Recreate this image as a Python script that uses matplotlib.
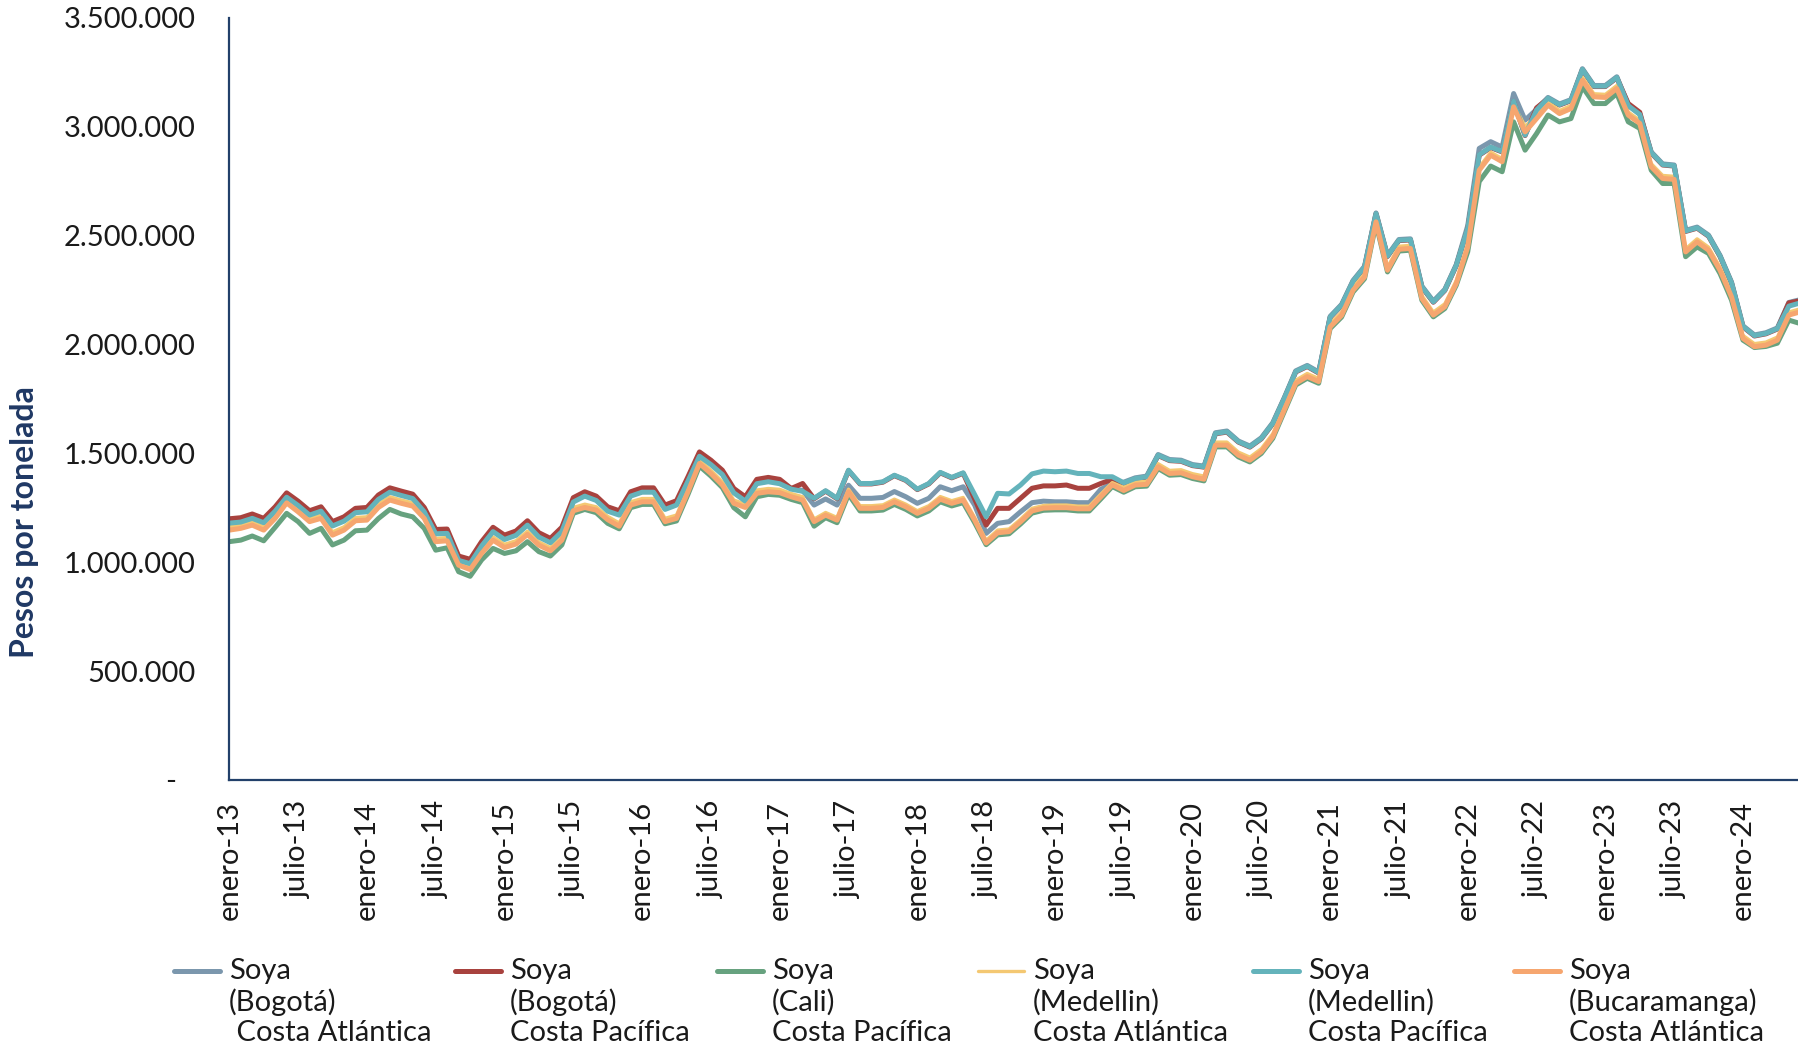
import numpy as np
import matplotlib
matplotlib.use("Agg")
import matplotlib.pyplot as plt
from matplotlib.lines import Line2D
from matplotlib.ticker import FuncFormatter
from matplotlib.transforms import ScaledTranslation

plt.rcParams['font.family'] = ['Lato', 'DejaVu Sans']

# Precio mensual de la soya, miles de pesos por tonelada (enero-13 en adelante)
bogota_atl = [1183, 1188, 1205, 1185, 1238, 1302, 1264, 1220, 1238, 1170,
              1192, 1231, 1235, 1292, 1325, 1310, 1296, 1235, 1134, 1136,
              1012, 997, 1078, 1144, 1108, 1127, 1174, 1119, 1093, 1144,
              1280, 1307, 1287, 1238, 1220, 1307, 1325, 1325, 1246, 1266,
              1376, 1490, 1452, 1406, 1322, 1284, 1364, 1373, 1364, 1339,
              1329, 1262, 1290, 1262, 1353, 1293, 1293, 1297, 1324, 1300,
              1270, 1293, 1346, 1328, 1346, 1262, 1132, 1178, 1186, 1231,
              1273, 1280, 1277, 1277, 1273, 1273, 1334, 1361, 1367, 1387,
              1395, 1494, 1471, 1468, 1448, 1441, 1594, 1602, 1556, 1533,
              1571, 1640, 1755, 1878, 1903, 1873, 2128, 2183, 2293, 2358,
              2603, 2408, 2481, 2484, 2267, 2198, 2252, 2366, 2545, 2899,
              2930, 2905, 3151, 3029, 3078, 3133, 3103, 3123, 3265, 3188,
              3188, 3228, 3098, 3058, 2883, 2828, 2823, 2523, 2538, 2501,
              2408, 2286, 2085, 2043, 2053, 2075, 2192, 2205]

bogota_pac = [1199, 1204, 1221, 1201, 1254, 1318, 1280, 1236, 1254, 1186,
              1208, 1247, 1251, 1308, 1341, 1326, 1312, 1251, 1150, 1152,
              1028, 1013, 1094, 1160, 1124, 1143, 1190, 1135, 1109, 1160,
              1296, 1323, 1303, 1254, 1236, 1323, 1341, 1341, 1262, 1282,
              1392, 1506, 1468, 1422, 1338, 1300, 1380, 1389, 1380, 1338,
              1361, 1291, 1326, 1291, 1420, 1359, 1359, 1367, 1397, 1375,
              1333, 1359, 1410, 1387, 1408, 1290, 1170, 1247, 1247, 1293,
              1339, 1350, 1350, 1354, 1339, 1339, 1361, 1380, 1362, 1382,
              1390, 1489, 1466, 1463, 1443, 1436, 1589, 1597, 1551, 1528,
              1566, 1635, 1750, 1873, 1898, 1868, 2123, 2178, 2288, 2353,
              2598, 2403, 2476, 2479, 2262, 2193, 2247, 2361, 2530, 2868,
              2903, 2883, 3113, 2958, 3085, 3128, 3098, 3118, 3260, 3183,
              3183, 3223, 3105, 3065, 2878, 2823, 2818, 2518, 2533, 2496,
              2403, 2281, 2080, 2038, 2048, 2070, 2190, 2200]

cali_pac = [1094, 1101, 1120, 1098, 1160, 1224, 1186, 1132, 1155, 1079,
            1101, 1144, 1147, 1200, 1242, 1221, 1208, 1155, 1055, 1066,
            956, 935, 1010, 1063, 1040, 1052, 1094, 1048, 1028, 1079,
            1224, 1242, 1227, 1178, 1153, 1250, 1265, 1265, 1176, 1189,
            1311, 1441, 1395, 1342, 1250, 1208, 1300, 1311, 1307, 1288,
            1273, 1165, 1204, 1181, 1311, 1235, 1235, 1239, 1265, 1242,
            1212, 1235, 1277, 1258, 1273, 1181, 1080, 1125, 1130, 1175,
            1225, 1238, 1240, 1240, 1235, 1235, 1290, 1347, 1321, 1346,
            1349, 1430, 1399, 1402, 1384, 1373, 1529, 1529, 1483, 1460,
            1499, 1568, 1691, 1813, 1844, 1821, 2072, 2125, 2240, 2301,
            2554, 2332, 2428, 2432, 2202, 2126, 2164, 2271, 2425, 2747,
            2818, 2792, 3021, 2891, 2967, 3052, 3021, 3036, 3182, 3105,
            3105, 3151, 3021, 2991, 2799, 2738, 2738, 2402, 2447, 2417,
            2325, 2203, 2019, 1985, 1990, 2005, 2111, 2095]

medellin_atl = [1162, 1170, 1185, 1162, 1216, 1287, 1246, 1201, 1216, 1139,
                1162, 1205, 1208, 1266, 1300, 1285, 1272, 1216, 1109, 1113,
                1001, 981, 1055, 1116, 1082, 1098, 1142, 1093, 1067, 1116,
                1251, 1266, 1254, 1210, 1180, 1277, 1292, 1292, 1201, 1216,
                1338, 1468, 1422, 1369, 1285, 1266, 1331, 1338, 1334, 1315,
                1300, 1198, 1228, 1205, 1335, 1259, 1259, 1263, 1289, 1266,
                1236, 1259, 1301, 1282, 1297, 1205, 1100, 1147, 1152, 1197,
                1247, 1260, 1262, 1262, 1257, 1257, 1312, 1365, 1343, 1368,
                1371, 1452, 1421, 1424, 1406, 1395, 1551, 1551, 1505, 1482,
                1521, 1590, 1713, 1835, 1866, 1843, 2094, 2147, 2262, 2323,
                2576, 2354, 2450, 2454, 2224, 2148, 2186, 2293, 2461, 2813,
                2882, 2852, 3104, 3000, 3050, 3112, 3073, 3096, 3226, 3150,
                3147, 3188, 3066, 3028, 2829, 2775, 2771, 2438, 2484, 2446,
                2354, 2232, 2041, 2003, 2010, 2033, 2148, 2163]

medellin_pac = [1179, 1184, 1201, 1181, 1234, 1298, 1260, 1216, 1234, 1166,
                1188, 1227, 1231, 1288, 1321, 1306, 1292, 1231, 1130, 1132,
                1008, 993, 1074, 1140, 1104, 1123, 1170, 1115, 1089, 1140,
                1276, 1303, 1283, 1234, 1216, 1303, 1321, 1321, 1242, 1262,
                1372, 1486, 1448, 1402, 1318, 1280, 1360, 1369, 1360, 1335,
                1325, 1293, 1328, 1293, 1422, 1361, 1361, 1369, 1399, 1377,
                1335, 1361, 1412, 1389, 1410, 1310, 1208, 1316, 1313, 1354,
                1405, 1418, 1415, 1418, 1407, 1407, 1392, 1392, 1364, 1384,
                1392, 1491, 1468, 1465, 1445, 1438, 1591, 1599, 1553, 1530,
                1568, 1637, 1752, 1875, 1900, 1870, 2125, 2180, 2290, 2355,
                2600, 2405, 2478, 2481, 2264, 2195, 2249, 2363, 2532, 2870,
                2905, 2885, 3115, 2960, 3075, 3130, 3100, 3120, 3262, 3185,
                3185, 3225, 3095, 3055, 2880, 2825, 2820, 2520, 2535, 2498,
                2405, 2283, 2082, 2040, 2050, 2072, 2175, 2190]

bucaramanga_atl = [1147, 1155, 1170, 1147, 1201, 1272, 1231, 1186, 1201, 1124,
                   1147, 1190, 1193, 1251, 1285, 1270, 1257, 1201, 1094, 1098,
                   986, 966, 1040, 1101, 1067, 1083, 1127, 1078, 1052, 1101,
                   1236, 1251, 1239, 1195, 1165, 1262, 1277, 1277, 1186, 1201,
                   1323, 1453, 1407, 1354, 1270, 1251, 1316, 1323, 1319, 1300,
                   1285, 1186, 1216, 1193, 1323, 1247, 1247, 1251, 1277, 1254,
                   1224, 1247, 1289, 1270, 1285, 1193, 1088, 1135, 1140, 1185,
                   1235, 1248, 1250, 1250, 1245, 1245, 1300, 1355, 1329, 1354,
                   1357, 1438, 1407, 1410, 1392, 1381, 1537, 1537, 1491, 1468,
                   1507, 1576, 1699, 1821, 1852, 1829, 2080, 2133, 2248, 2309,
                   2562, 2340, 2436, 2440, 2210, 2134, 2172, 2279, 2447, 2799,
                   2868, 2838, 3090, 2975, 3036, 3098, 3059, 3082, 3212, 3136,
                   3133, 3174, 3052, 3014, 2815, 2761, 2757, 2424, 2470, 2432,
                   2340, 2218, 2027, 1989, 1996, 2019, 2134, 2149]

etiquetas_x = ["enero-13", "julio-13", "enero-14", "julio-14", "enero-15", "julio-15",
               "enero-16", "julio-16", "enero-17", "julio-17", "enero-18", "julio-18",
               "enero-19", "julio-19", "enero-20", "julio-20", "enero-21", "julio-21",
               "enero-22", "julio-22", "enero-23", "julio-23", "enero-24"]

nombres = [("Soya", "(Bogotá)", " Costa Atlántica"),
           ("Soya", "(Bogotá)", "Costa Pacífica"),
           ("Soya", "(Cali)", "Costa Pacífica"),
           ("Soya", "(Medellin)", "Costa Atlántica"),
           ("Soya", "(Medellin)", "Costa Pacífica"),
           ("Soya", "(Bucaramanga)", "Costa Atlántica")]

series = [bogota_atl, bogota_pac, cali_pac, medellin_atl, medellin_pac, bucaramanga_atl]
colores = ["#7B97AD", "#A8423E", "#67A27F", "#F4C872", "#64B3BB", "#F6A66F"]
anchos = [3.6, 3.6, 3.6, 2.4, 3.6, 3.6]

W, H = 1798, 1050
fig = plt.figure(figsize=(W / 100, H / 100), dpi=100)
ax = fig.add_axes([229.3 / W, 270 / H, 1 - 229.3 / W, 762.5 / H])

meses = np.arange(len(bogota_atl))
for vals, col, lw in zip(series, colores, anchos):
    ax.plot(meses, np.array(vals) * 1000, color=col, lw=lw,
            solid_joinstyle='round', solid_capstyle='round')

ax.set_xlim(0, 136.8)
ax.set_ylim(0, 3.5e6)


def miles(v, pos):
    if v == 0:
        return "-"
    return f"{v:,.0f}".replace(",", ".")


ax.set_yticks(np.arange(0, 3.5e6 + 1, 5e5))
ax.yaxis.set_major_formatter(FuncFormatter(miles))
ax.set_xticks(meses[::6])
ax.set_xticklabels(etiquetas_x, rotation=90)

ax.tick_params(axis='both', length=0, labelsize=21, labelcolor='#1a1a1a')
ax.tick_params(axis='y', pad=24)
ax.tick_params(axis='x', pad=15)

# el cero se muestra como guion, algo corrido a la izquierda
t0 = ax.yaxis.get_major_ticks()[0].label1
t0.set_transform(t0.get_transform() + ScaledTranslation(-0.2, 0, fig.dpi_scale_trans))

for s in ['top', 'right']:
    ax.spines[s].set_visible(False)
for s in ['left', 'bottom']:
    ax.spines[s].set_color('#22406A')
    ax.spines[s].set_linewidth(1.6)

fig.text(25 / W, 1 - 522 / H, "Pesos por tonelada", rotation=90, ha='center', va='center',
         fontsize=23, fontweight='bold', color='#1F3864')

# leyenda a mano, una entrada por columna
leg_x = [174, 455, 717, 978, 1253, 1514]
fila_y = [971, 1002, 1033]
for x0, col, lw, nom in zip(leg_x, colores, anchos, nombres):
    fig.add_artist(Line2D([x0 / W, (x0 + 46) / W], [1 - fila_y[0] / H] * 2,
                          color=col, lw=lw, solid_capstyle='round',
                          transform=fig.transFigure))
    for yy, linea in zip(fila_y, nom):
        fig.text((x0 + 55) / W, 1 - yy / H, linea, ha='left', va='center',
                 fontsize=21, color='#1a1a1a')

fig.savefig("out.png", dpi=100)
